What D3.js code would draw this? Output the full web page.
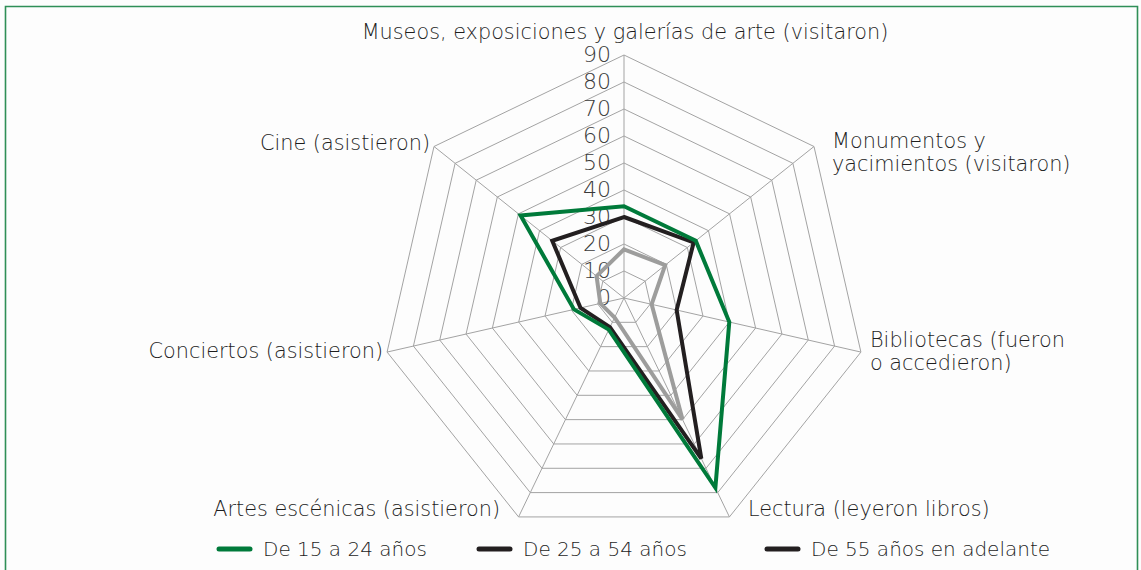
<!DOCTYPE html>
<html>
<head>
<meta charset="utf-8">
<script src="https://cdn.jsdelivr.net/npm/d3@7"></script>
<style>
  body { margin: 0; background: #fdfdfd; }
  svg text { font-family: "DejaVu Sans", sans-serif; font-weight: 200; fill: #1e1e1e; }
</style>
</head>
<body>
<svg id="chart" width="1141" height="570"></svg>
<script>
// axes, clockwise from the top
const categories = [
  ["Museos, exposiciones y galerías de arte (visitaron)"],
  ["Monumentos y", "yacimientos (visitaron)"],
  ["Bibliotecas (fueron", "o accedieron)"],
  ["Lectura (leyeron libros)"],
  ["Artes escénicas (asistieron)"],
  ["Conciertos (asistieron)"],
  ["Cine (asistieron)"]
]
const seriesNames = ["De 15 a 24 años", "De 25 a 54 años", "De 55 años en adelante"]
const young = [34, 34, 40, 78, 13, 19, 49]
const adult = [30, 33, 20, 66, 12, 16.5, 34]
const senior = [18, 19.5, 10.5, 50, 8, 9, 13]
const ticks = [0, 10, 20, 30, 40, 50, 60, 70, 80, 90]

const width = 1141, height = 570
const cx = 624, cy = 298
const colors = ["#007a3a", "#231f20", "#9d9d9c"]
const legendColors = ["#007a3a", "#231f20", "#231f20"]

const svg = d3.select("#chart")

// frame
svg.append("path")
  .attr("d", `M5.5,${height} V6.5 H1137.5 V${height}`)
  .attr("fill", "none")
  .attr("stroke", "#2f8f57")
  .attr("stroke-width", 1.6)

const r = d3.scaleLinear().domain([0, 90]).range([0, 243])
const angle = d3.scaleLinear().domain([0, categories.length]).range([0, 2 * Math.PI])
const pt = (i, v) => [cx + r(v) * Math.sin(angle(i)), cy - r(v) * Math.cos(angle(i))]

const idx = d3.range(categories.length)
const g = svg.append("g")

// rings
g.selectAll(".ring")
  .data(ticks.slice(1))
  .join("path")
    .attr("class", "ring")
    .attr("d", t => d3.line()(idx.map(i => pt(i, t))) + "Z")
    .attr("fill", "none")
    .attr("stroke", "#a3a3a3")
    .attr("stroke-width", 1)

// spokes
g.selectAll(".spoke")
  .data(idx)
  .join("line")
    .attr("x1", cx).attr("y1", cy)
    .attr("x2", i => pt(i, 90)[0])
    .attr("y2", i => pt(i, 90)[1])
    .attr("stroke", "#a3a3a3")
    .attr("stroke-width", 1)

// tick labels
g.selectAll(".tick")
  .data(ticks)
  .join("text")
    .attr("x", cx - 13)
    .attr("y", t => cy - r(t))
    .attr("dy", "0.3em")
    .attr("text-anchor", "end")
    .attr("font-size", 22)
    .style("fill", "#3a3a3a")
    .text(t => t)

// series
const radial = d3.lineRadial()
  .angle((d, i) => angle(i))
  .radius(d => r(d))
  .curve(d3.curveLinearClosed)

const data = [young, adult, senior]
svg.append("g")
  .attr("transform", `translate(${cx},${cy})`)
  .selectAll("path")
  .data(data.slice().reverse())
  .join("path")
    .attr("d", radial)
    .attr("fill", "none")
    .attr("stroke", (d, i) => colors[2 - i])
    .attr("stroke-width", 4)
    .attr("stroke-linejoin", "miter")

// category labels
const labelPos = [
  { x: 625, y: 39, anchor: "middle" },
  { x: 832, y: 148, anchor: "start" },
  { x: 870, y: 347, anchor: "start" },
  { x: 748, y: 516, anchor: "start" },
  { x: 500, y: 516, anchor: "end" },
  { x: 383, y: 358, anchor: "end" },
  { x: 430, y: 150, anchor: "end" }
]
categories.forEach((lines, i) => {
  const t = svg.append("text")
    .attr("x", labelPos[i].x)
    .attr("y", labelPos[i].y)
    .attr("text-anchor", labelPos[i].anchor)
    .attr("font-size", 20.8)
  lines.forEach((l, j) => t.append("tspan").attr("x", labelPos[i].x).attr("dy", j ? 23 : 0).text(l))
})

// legend
const legendX = [217, 477, 765]
const leg = svg.append("g").selectAll("g")
  .data(seriesNames)
  .join("g")
    .attr("transform", (d, i) => `translate(${legendX[i]},549)`)
leg.append("line")
  .attr("x1", 2).attr("x2", 33)
  .attr("stroke", (d, i) => legendColors[i])
  .attr("stroke-width", 5)
  .attr("stroke-linecap", "round")
leg.append("text")
  .attr("x", 46)
  .attr("dy", "0.35em")
  .attr("font-size", 20)
  .text(d => d)
</script>
</body>
</html>
